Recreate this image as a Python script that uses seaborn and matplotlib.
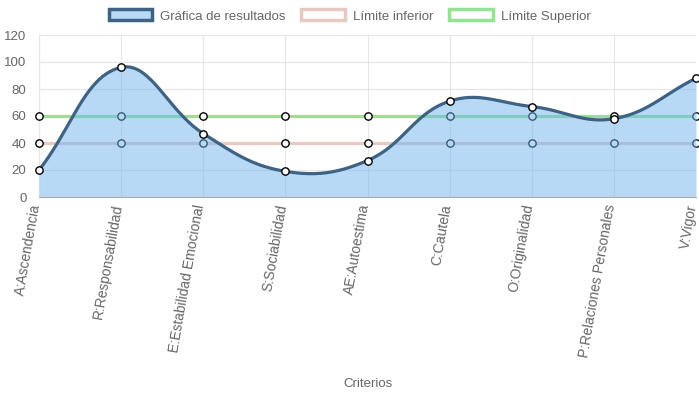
import numpy as np
import pandas as pd
import seaborn as sns
import matplotlib.pyplot as plt
import matplotlib.transforms as mtransforms
from matplotlib.patches import Patch

criterios = ["A:Ascendencia", "R:Responsabilidad", "E:Estabilidad Emocional",
             "S:Sociabilidad", "AE:Autoestima", "C:Cautela", "O:Originalidad",
             "P:Relaciones Personales", "V:Vigor"]
resultados = [20, 96, 47, 19, 27, 71, 67, 58, 88]
limite_inferior = [40, 40, 40, 40, 40, 40, 40, 40, 40]
limite_superior = [60, 60, 60, 60, 60, 60, 60, 60, 60]

c_line = "#3e6283"
c_fill = (113 / 255, 181 / 255, 239 / 255, 0.5)
c_inf = "#e6c9c1"
c_sup = "#94e394"
c_text = "#666666"

sns.set_style("white")
plt.rcParams['font.family'] = ['Liberation Sans', 'DejaVu Sans']

fig = plt.figure(figsize=(6.99, 3.93), dpi=100)
ax = fig.add_axes([39 / 699, 1 - 197 / 393, 657 / 699, 162 / 393])

x = np.arange(len(criterios))
df = pd.DataFrame({"x": x, "res": resultados,
                   "inf": limite_inferior, "sup": limite_superior})


# Chart.js-like bezier smoothing (tension 0.4), computed in pixel space
def bezier_curve(xs, ys, sx=82.1, sy=1.35, t=0.4, n=40):
    px = np.asarray(xs, float) * sx
    py = np.asarray(ys, float) * sy
    cps = []
    for i in range(len(px)):
        p0 = (px[max(i - 1, 0)], py[max(i - 1, 0)])
        p1 = (px[i], py[i])
        p2 = (px[min(i + 1, len(px) - 1)], py[min(i + 1, len(py) - 1)])
        d01 = np.hypot(p1[0] - p0[0], p1[1] - p0[1])
        d12 = np.hypot(p2[0] - p1[0], p2[1] - p1[1])
        tot = d01 + d12
        s01 = d01 / tot if tot else 0
        s12 = d12 / tot if tot else 0
        fa, fb = t * s01, t * s12
        cp1 = (p1[0] - fa * (p2[0] - p0[0]), p1[1] - fa * (p2[1] - p0[1]))
        cp2 = (p1[0] + fb * (p2[0] - p0[0]), p1[1] + fb * (p2[1] - p0[1]))
        cps.append((cp1, cp2))
    out_x, out_y = [], []
    s = np.linspace(0, 1, n)
    for i in range(len(px) - 1):
        a = np.array([px[i], py[i]])
        b = np.array(cps[i][1])
        c = np.array(cps[i + 1][0])
        d = np.array([px[i + 1], py[i + 1]])
        pts = ((1 - s) ** 3)[:, None] * a + (3 * (1 - s) ** 2 * s)[:, None] * b \
            + (3 * (1 - s) * s ** 2)[:, None] * c + (s ** 3)[:, None] * d
        out_x.extend(pts[:, 0])
        out_y.extend(pts[:, 1])
    return np.array(out_x) / sx, np.array(out_y) / sy


# limit lines (drawn under the fill)
sns.lineplot(data=df, x="x", y="inf", color=c_inf, lw=2.3, ax=ax, zorder=2)
sns.lineplot(data=df, x="x", y="sup", color=c_sup, lw=2.3, ax=ax, zorder=2)
for col in ["inf", "sup"]:
    sns.scatterplot(data=df, x="x", y=col, s=28, color="white",
                    edgecolor="black", linewidth=1.0, ax=ax, zorder=3,
                    clip_on=False)

cx, cy = bezier_curve(x, resultados)
ax.fill_between(cx, 0, cy, color=c_fill, lw=0, zorder=4)
ax.plot(cx, cy, color=c_line, lw=2.3, zorder=5, solid_capstyle="round")
sns.scatterplot(data=df, x="x", y="res", s=28, color="white",
                edgecolor="black", linewidth=1.0, ax=ax, zorder=6,
                clip_on=False)

ax.set_xlim(0, len(criterios) - 1)
ax.set_ylim(0, 120)
ax.set_yticks(range(0, 121, 20))
ax.set_xticks(x)
ax.tick_params(axis="y", labelsize=9.5, colors=c_text, length=8, width=0.8,
               color="#d9d9d9", pad=1)
ax.tick_params(axis="x", length=6, width=0.8, color="#e6e6e6", pad=2)
ax.set_xticklabels(criterios, rotation=80, ha="right", va="center",
                   rotation_mode="anchor", fontsize=10, color=c_text)
shift = mtransforms.ScaledTranslation(-3 / 100, 4 / 100, fig.dpi_scale_trans)
for lbl in ax.get_xticklabels():
    lbl.set_transform(lbl.get_transform() + shift)
for lbl in ax.get_yticklabels():
    lbl.set_color(c_text)
ax.grid(True, color="#e6e6e6", lw=0.8, zorder=0)
ax.set_axisbelow(True)
for side in ["top", "right"]:
    ax.spines[side].set_visible(False)
ax.spines["left"].set_color("#e6e6e6")
ax.spines["bottom"].set_color("#aaaaaa")
ax.spines["left"].set_zorder(1)
ax.spines["bottom"].set_zorder(7)

ax.set_ylabel("")
ax.set_xlabel("Criterios", fontsize=9.5, color=c_text)
ax.xaxis.set_label_coords(0.5, -1.12)

handles = [
    Patch(facecolor=(0.72, 0.85, 0.97), edgecolor=c_line, lw=2.5),
    Patch(facecolor="white", edgecolor=c_inf, lw=2.5),
    Patch(facecolor="white", edgecolor=c_sup, lw=2.5),
]
fig.legend(handles, ["Gráfica de resultados", "Límite inferior", "Límite Superior"],
           loc="center", bbox_to_anchor=(0.5, 1 - 16 / 393), ncol=3, frameon=False,
           fontsize=9.5, labelcolor=c_text, handlelength=3.3, handleheight=0.9,
           handletextpad=0.6, columnspacing=1.2)

plt.savefig("out.png", dpi=100)
